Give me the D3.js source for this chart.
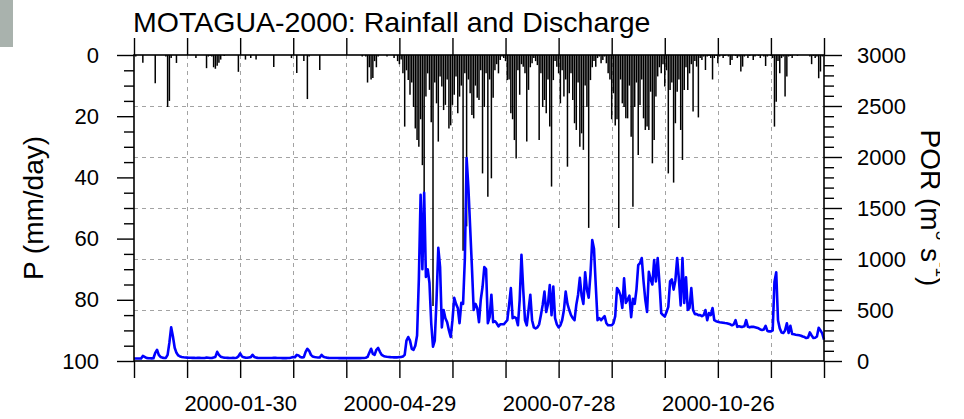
<!DOCTYPE html>
<html><head><meta charset="utf-8">
<script src="https://cdn.jsdelivr.net/npm/d3@7"></script>
<style>body{margin:0;background:#fff}svg{display:block}</style>
</head><body><svg id="c" width="964" height="419"></svg>
<script>
// ---------- DATA ----------
const startDate = "1999-12-01";   // first daily value
const titleText = "MOTAGUA-2000: Rainfall and Discharge";
const xLabelDates = ["2000-01-30", "2000-04-29", "2000-07-28", "2000-10-26"];
const rainTicks = [0, 20, 40, 60, 80, 100];
const dischargeTicks = [0, 500, 1000, 1500, 2000, 2500, 3000];

// daily rainfall, mm/day
const rainfall = [
0,0.5,0,0,0,2.5,0,0,0,0,
0,0,9.2,0,0,0,0,0,0.5,17,
15,1,0,0,2.6,0,0,0,0,0,
0,0,0,0,0,1,0,0,0,0,
0,4.3,0.5,0.3,0.5,4,4.5,3.5,2.5,1.5,
0,0.3,0,0,0,0,0,0,0,5.5,
0,0,0,1.5,0,0,1,0,0,1.5,
0,0,0,0,0,0,0,0,0,3.9,
0,0,0,0,0,0,0,0,0,1,
0,0,5.9,0,0,0,2,0,14.4,0.5,
0,0,0,0,0,4.9,0,0,0,0,
0,0,0,0,0,0,0,0,0,0,
0,0,0,0,0,0,0,0,0,0.5,
0,0.5,9,4,8,7.5,2,4,0.5,0,
0,0,0,0.5,0,0,0,1,0,2,
3,1.5,6,23.4,5,8.2,13,9,17,24,
27.8,30,21,36,45,13.6,6,11.4,22,82,
9,15.8,28.3,7,10.3,18,16.3,8,24,23,
16.3,13,7,19,13.6,10,64,6,56,8,
12.5,19.6,20.7,10,14,14.7,5,38.7,17,6,
46.3,8,40.3,14,5,3,6,1.6,0.5,1,
2,8.2,8,19,21,27.8,33.8,5,13,3,
3.8,6,28.3,11.4,4,2.7,1,2,3.3,27.8,
6,17,14.7,19,8,23.4,43,8.2,2,3.8,
6,15.8,5,13.6,8,36.5,12.5,6,14.7,22.3,
24.5,9,30,25.6,31,10,17,56.5,8.2,4,
2,3.8,1,0.5,2.7,1.6,0.5,2.7,6,8,
21,12.5,23,21,56.5,8,15.8,17,20.7,20.7,
10,26.7,49.6,17,9,32.7,16.3,8,20.7,24.5,
23.4,24.5,12,35.4,27.8,13.6,7,4,6,3,
10.3,5,38.7,11.4,9,41.7,22.3,12,8,24.5,
34.3,11.4,4,11.4,6,3,18.5,2,3.8,20.4,
1,1.6,0.5,4.9,0.5,0.3,1,8,1,0.3,
2.7,0.5,0,1,0.3,0,0.5,3.3,1.6,0,
0.3,1,0.5,5.4,3.8,0.5,0,1,0.3,0,
1.6,0.5,0,0.3,1,0,0.5,3.6,0.5,0,
0.3,1,23.4,15.3,2,6,1,0.5,13.6,7,
0.5,0.3,1,0,0,0.3,0,0,0,0,
0,0,0.5,3,0.3,1,0.5,7.6,5.4,0.5,
0
];

// daily discharge, m3/s
const discharge = [
25,25,24,24,25,50,40,30,28,27,
26,27,80,110,60,40,33,30,30,60,
180,330,240,130,80,55,45,40,36,34,
33,32,32,31,31,30,32,31,30,30,
30,34,32,30,30,35,40,90,60,42,
36,33,32,31,30,30,31,30,32,45,
75,45,36,33,32,35,38,60,40,33,
31,30,30,29,29,30,29,29,30,32,
31,30,29,29,28,28,28,29,30,34,
40,38,60,55,40,35,38,90,120,100,
60,45,40,37,35,34,60,42,36,33,
31,30,30,29,29,29,28,28,28,28,
28,28,28,28,28,28,28,28,28,29,
30,32,40,80,120,70,60,110,128,90,
60,50,45,42,40,38,37,36,36,36,
38,40,45,60,200,235,200,120,110,150,
250,800,1630,900,1650,825,900,765,370,140,
200,600,1110,920,330,500,420,380,300,235,
400,620,560,520,370,570,560,1000,1990,1700,
1310,920,500,560,520,380,600,725,920,900,
370,430,650,380,390,370,340,360,360,360,
380,400,550,715,420,430,420,350,600,1040,
700,400,350,500,650,400,330,320,330,360,
450,550,680,480,560,745,450,730,420,360,
330,350,400,500,680,560,500,450,420,400,
550,650,815,640,560,870,700,620,850,1185,
1100,740,400,420,400,420,440,370,350,350,
350,370,440,715,690,640,520,810,570,600,
640,430,610,560,700,940,960,1010,780,600,
480,875,800,750,990,780,1010,765,470,450,
435,480,530,780,800,700,790,1010,800,545,
1010,570,820,500,520,715,500,460,460,450,
450,440,450,500,400,470,450,520,400,390,
385,380,378,375,372,370,365,360,350,360,
400,335,340,335,335,340,400,335,330,335,
335,330,325,320,310,305,310,345,295,290,
290,300,775,870,400,320,280,275,300,370,
275,345,265,262,258,255,252,248,240,235,
225,230,280,250,225,228,240,325,300,270,
210
];

// ---------- LAYOUT ----------
const L = 134, R = 824, T = 55, B = 361;
const FONT = "'Liberation Sans', Arial, Helvetica, sans-serif";
const svg = d3.select("#c");

const day = d3.utcParse("%Y-%m-%d");
const t0 = day(startDate);
const dates = rainfall.map((_, i) => d3.utcDay.offset(t0, i));
const tEnd = d3.utcDay.offset(t0, rainfall.length - 1);

const x = d3.scaleUtc().domain([t0, tEnd]).range([L, R]);
const yRain = d3.scaleLinear().domain([0, 100]).range([T, B]);
const yQ = d3.scaleLinear().domain([0, 3000]).range([B, T]);

const xTicks = d3.utcDay.range(t0, d3.utcDay.offset(tEnd, 1), 1).filter((d, i) => i % 30 === 0);
const fmt = d3.utcFormat("%Y-%m-%d");

// corner block
svg.append("rect").attr("x", 0).attr("y", 0).attr("width", 13).attr("height", 47).attr("fill", "#a9b2ad");

// grid
const grid = svg.append("g").attr("stroke", "#a3a3a3").attr("stroke-width", 1).attr("stroke-dasharray", "4,4");
grid.selectAll("line.v").data(xTicks.slice(1, -1)).join("line")
  .attr("x1", d => Math.round(x(d)) + 0.5).attr("x2", d => Math.round(x(d)) + 0.5)
  .attr("y1", T).attr("y2", B);
grid.selectAll("line.h").data(dischargeTicks.slice(1, -1)).join("line")
  .attr("x1", L).attr("x2", R)
  .attr("y1", d => Math.round(yQ(d)) + 0.5).attr("y2", d => Math.round(yQ(d)) + 0.5);

// rainfall bars (hanging from the top)
svg.append("g").selectAll("line").data(rainfall.map((v, i) => ({ d: dates[i], v })).filter(o => o.v > 0))
  .join("line")
  .attr("x1", o => x(o.d)).attr("x2", o => x(o.d))
  .attr("y1", yRain(0)).attr("y2", o => yRain(o.v))
  .attr("stroke", "#000").attr("stroke-width", 1.5);

// discharge line
svg.append("path").datum(discharge.map((v, i) => ({ d: dates[i], v })))
  .attr("fill", "none").attr("stroke", "#0000ff").attr("stroke-width", 2.6)
  .attr("stroke-linejoin", "round")
  .attr("d", d3.line().x(o => x(o.d)).y(o => yQ(o.v)));

// axes
function styleAxis(g, size) {
  g.select(".domain").remove();
  g.selectAll(".tick line").attr("stroke", "#000").attr("stroke-width", 1.4);
  g.selectAll("text").attr("font-family", FONT).attr("font-size", size).attr("fill", "#000");
}
const labelSet = new Set(xLabelDates);
svg.append("g").attr("transform", `translate(0,${B})`)
  .call(d3.axisBottom(x).tickValues(xTicks).tickSize(17).tickPadding(17)
    .tickFormat(d => labelSet.has(fmt(d)) ? fmt(d) : ""))
  .call(g => styleAxis(g, 22));
svg.append("g").attr("transform", `translate(0,${T})`)
  .call(d3.axisTop(x).tickValues(xTicks).tickSize(17).tickFormat(""))
  .call(g => styleAxis(g, 22));

// left: rainfall
svg.append("g").attr("transform", `translate(${L},0)`)
  .call(d3.axisLeft(yRain).tickValues(d3.range(0, 101, 5).filter(v => v % 20 !== 0)).tickSize(10).tickFormat(""))
  .call(g => styleAxis(g, 22));
svg.append("g").attr("transform", `translate(${L},0)`)
  .call(d3.axisLeft(yRain).tickValues(rainTicks).tickSize(17).tickPadding(18).tickFormat(d3.format("d")))
  .call(g => styleAxis(g, 22));

// right: discharge
svg.append("g").attr("transform", `translate(${R},0)`)
  .call(d3.axisRight(yQ).tickValues(d3.range(0, 3001, 100).filter(v => v % 500 !== 0)).tickSize(10).tickFormat(""))
  .call(g => styleAxis(g, 22));
svg.append("g").attr("transform", `translate(${R},0)`)
  .call(d3.axisRight(yQ).tickValues(dischargeTicks).tickSize(18).tickPadding(15).tickFormat(d3.format("d")))
  .call(g => styleAxis(g, 22));

// frame
svg.append("rect").attr("x", L).attr("y", T).attr("width", R - L).attr("height", B - T)
  .attr("fill", "none").attr("stroke", "#000").attr("stroke-width", 1.6);

// title
svg.append("text").attr("x", L - 1).attr("y", 32).attr("font-family", FONT).attr("font-size", 28.5)
  .attr("fill", "#000").text(titleText);

// axis titles
svg.append("text").attr("transform", `translate(43,${(T + B) / 2}) rotate(-90)`)
  .attr("text-anchor", "middle").attr("font-family", FONT).attr("font-size", 28).attr("fill", "#000")
  .text("P (mm/day)");

svg.append("clipPath").attr("id", "rclip").append("rect").attr("x", 0).attr("y", 0).attr("width", 940).attr("height", 419);
const rl = svg.append("g").attr("clip-path", "url(#rclip)")
  .append("text").attr("transform", `translate(921,${(T + B) / 2}) rotate(90)`)
  .attr("text-anchor", "middle").attr("font-family", FONT).attr("font-size", 28).attr("fill", "#000");
rl.append("tspan").text("POR (m");
rl.append("tspan").attr("font-size", 17).attr("dy", -15).text("3");
rl.append("tspan").attr("dy", 15).text(" s");
rl.append("tspan").attr("font-size", 17).attr("dy", -15).text("-1");
rl.append("tspan").attr("dy", 15).text(")");
</script></body></html>
